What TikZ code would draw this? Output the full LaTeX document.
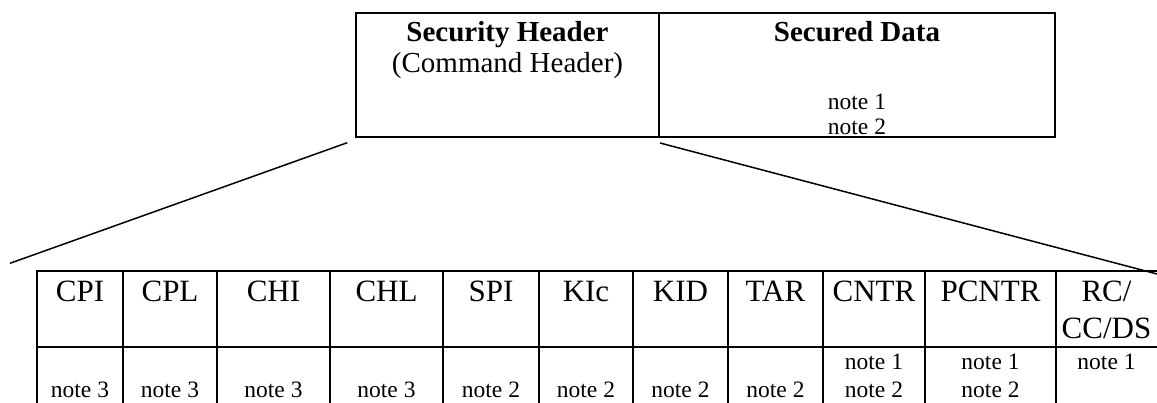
\documentclass[tikz,border=0pt]{standalone}
\usepackage{fontspec}
\setmainfont{Liberation Serif}
\begin{document}
\begin{tikzpicture}[x=1pt,y=-1pt,
  boxc/.style={draw, line width=2pt, inner sep=0pt, outer sep=0pt, anchor=north west},
  conn/.style={line width=1.5pt},
  toplab/.style={anchor=base, inner sep=0pt, font=\fontsize{29}{33}\selectfont},
  hlab/.style={anchor=base, inner sep=0pt, font=\fontsize{31}{36}\selectfont},
  nlab/.style={anchor=base, inner sep=0pt, font=\fontsize{23.5}{27}\selectfont}]
\useasboundingbox (0,0) rectangle (1157,403);
\clip (0,0) rectangle (1157,403);
% top boxes
\node[boxc, minimum width=303pt, minimum height=123.5pt] (hdr) at (356,13.5) {};
\node[boxc, minimum width=396pt, minimum height=123.5pt] (data) at (659,13.5) {};
\node[toplab, font=\fontsize{29}{33}\selectfont\bfseries] (hdrt1) at (507.5,42) {Security Header};
\node[toplab] (hdrt2) at (507.5,72.5) {(Command Header)};
\node[toplab, font=\fontsize{29}{33}\selectfont\bfseries] (datat) at (857,42) {Secured Data};
\node[nlab] (datan1) at (857,110) {note 1};
\node[nlab] (datan2) at (857,134.5) {note 2};
% table
\foreach \a/\b/\t [count=\i] in {37/123/CPI, 123/217/CPL, 217/330/CHI, 330/443/CHL,
  443/539/SPI, 539/633/KIc, 633/728/KID, 728/823/TAR, 823/925/CNTR, 925/1056/PCNTR, 1056/1160/{}}{
  \pgfmathsetmacro{\w}{\b-\a}
  \node[boxc, minimum width=\w pt, minimum height=76pt] (h\i) at (\a,271) {};
  \node[boxc, minimum width=\w pt, minimum height=80pt] (n\i) at (\a,347) {};
  \node[hlab] (t\i) at ({(\a+\b)/2},301.5) {\t};
}
\node[hlab] (t11a) at (1106.5,301.5) {RC/};
\node[hlab] (t11b) at (1106.5,338) {CC/DS};
% notes
\foreach \a/\b/\t [count=\i] in {37/123/3, 123/217/3, 217/330/3, 330/443/3,
  443/539/2, 539/633/2, 633/728/2, 728/823/2}{
  \node[nlab] (nt\i) at ({(\a+\b)/2},397) {note \t};
}
\node[nlab] (nt9a) at (874,370) {note 1};
\node[nlab] (nt9b) at (874,397) {note 2};
\node[nlab] (nt10a) at (990.5,370) {note 1};
\node[nlab] (nt10b) at (990.5,397) {note 2};
\node[nlab] (nt11a) at (1106.5,370) {note 1};
% connectors
\coordinate (ls) at (347.3,142.7);
\coordinate (le) at (10,263.3);
\coordinate (rs) at (660,143);
\coordinate (re) at (1157,274);
\draw[conn] (ls) -- (le);
\draw[conn] (rs) -- (re);
\end{tikzpicture}
\end{document}
